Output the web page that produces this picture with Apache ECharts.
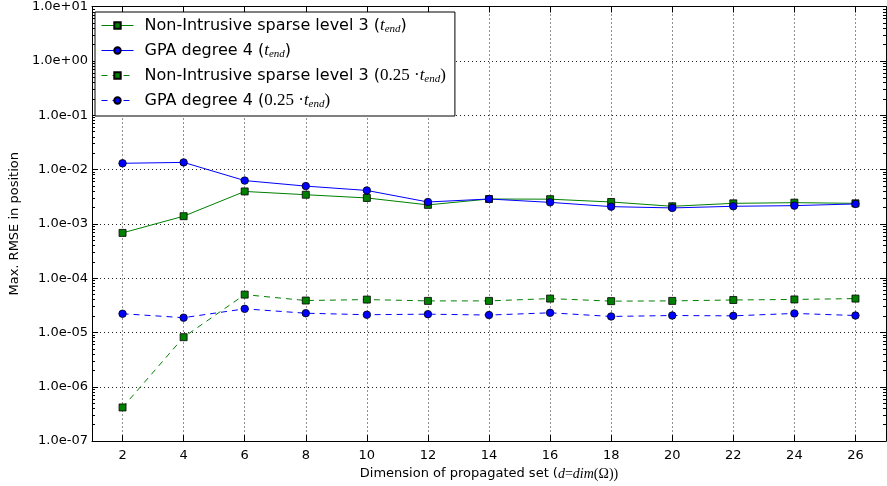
<!DOCTYPE html>
<html>
<head>
<meta charset="utf-8">
<script src="https://cdn.jsdelivr.net/npm/echarts@6/dist/echarts.min.js"></script>
<style>
  html, body { margin: 0; padding: 0; background: #fff; }
  #chart { width: 887px; height: 486px; }
</style>
</head>
<body>
<div id="chart"></div>
<script>
// Dimension of the propagated set
const dims = [2, 4, 6, 8, 10, 12, 14, 16, 18, 20, 22, 24, 26];

// Max. RMSE in position at t_end
const nonIntrusiveEnd = [6.8e-4, 1.38e-3, 3.94e-3, 3.43e-3, 2.99e-3, 2.23e-3, 2.86e-3, 2.84e-3, 2.52e-3, 2.10e-3, 2.38e-3, 2.45e-3, 2.38e-3];
const gpaEnd = [1.30e-2, 1.35e-2, 6.25e-3, 4.94e-3, 4.11e-3, 2.52e-3, 2.86e-3, 2.48e-3, 2.07e-3, 1.96e-3, 2.10e-3, 2.16e-3, 2.32e-3];

// Max. RMSE in position at 0.25 * t_end
const nonIntrusiveQuarter = [4.16e-7, 8.18e-6, 4.97e-5, 3.87e-5, 4.03e-5, 3.81e-5, 3.81e-5, 4.20e-5, 3.77e-5, 3.81e-5, 3.96e-5, 4.05e-5, 4.20e-5];
const gpaQuarter = [2.21e-5, 1.87e-5, 2.72e-5, 2.26e-5, 2.12e-5, 2.17e-5, 2.09e-5, 2.30e-5, 1.97e-5, 2.05e-5, 2.02e-5, 2.24e-5, 2.05e-5];

// Axis ticks
const xTicks = [2, 4, 6, 8, 10, 12, 14, 16, 18, 20, 22, 24, 26];
const yMin = 1e-7, yMax = 10;
const yMinor = [];
for (let e = -7; e < 1; e++) {
  for (let k = 2; k <= 9; k++) yMinor.push(k * Math.pow(10, e));
}

const sans = 'DejaVu Sans';
const serif = 'Liberation Serif';
const GREEN = '#008000', BLUE = '#0000ff';

function expLabel(v) {
  const e = Math.round(Math.log10(v));
  return '1.0e' + (e < 0 ? '-' : '+') + String(Math.abs(e)).padStart(2, '0');
}
const pair = (ys) => dims.map((d, i) => [d, ys[i]]);

const legendText = {
  'ni_end':  'Non-Intrusive sparse level 3 ({t|t}{s|end})',
  'gpa_end': 'GPA degree 4 ({t|t}{s|end})',
  'ni_q':    'Non-Intrusive sparse level 3 ({m|0.25 ·}{t|t}{s|end}{m|)}',
  'gpa_q':   'GPA degree 4 ({m|0.25 ·}{t|t}{s|end}{m|)}'
};

function lineSeries(name, data, color, symbol, dashed) {
  return {
    name, type: 'line', data: pair(data), xAxisIndex: 0, yAxisIndex: 0,
    symbol, symbolSize: symbol === 'rect' ? 7 : 7.5,
    lineStyle: { color, width: 1, type: dashed ? [6, 5] : 'solid' },
    itemStyle: { color, borderColor: '#000', borderWidth: 0.8 },
    emphasis: { disabled: true },
    z: 3
  };
}

const tickBase = { inside: true, lineStyle: { color: '#000', width: 1 } };

const chart = echarts.init(document.getElementById('chart'), null, { renderer: 'canvas' });
chart.setOption({
  animation: false,
  backgroundColor: '#fff',
  textStyle: { fontFamily: sans },
  grid: { left: 88, right: 1, top: 4, bottom: 43, containLabel: false },
  legend: {
    orient: 'vertical', left: 95, top: 12,
    backgroundColor: '#fff', borderColor: '#000', borderWidth: 1, borderRadius: 0,
    padding: [5, 9, 6, 6], itemGap: 7, itemWidth: 32, itemHeight: 8,
    lineStyle: { width: 1 },
    data: ['ni_end', 'gpa_end', 'ni_q', 'gpa_q'],
    formatter: (n) => legendText[n],
    textStyle: {
      fontFamily: sans, fontSize: 16, color: '#000', padding: [0, 0, 0, 6],
      rich: {
        t: { fontFamily: serif, fontStyle: 'italic', fontSize: 17, color: '#000' },
        s: { fontFamily: serif, fontStyle: 'italic', fontSize: 11, color: '#000', padding: [8, 0, 0, 0] },
        m: { fontFamily: serif, fontSize: 17, color: '#000' }
      }
    }
  },
  xAxis: [
    {
      type: 'value', min: 1, max: 27, position: 'bottom',
      name: 'Dimension of propagated set ({i|d}{r|=}{i|dim}{r|(Ω))}',
      nameLocation: 'middle', nameGap: 22,
      nameTextStyle: {
        fontFamily: sans, fontSize: 13, color: '#000',
        rich: {
          i: { fontFamily: serif, fontStyle: 'italic', fontSize: 14, color: '#000' },
          r: { fontFamily: serif, fontSize: 14, color: '#000' }
        }
      },
      axisLine: { show: true, lineStyle: { color: '#000', width: 1 } },
      axisTick: Object.assign({ length: 6, customValues: xTicks }, tickBase),
      axisLabel: { customValues: xTicks, color: '#000', fontSize: 13, margin: 8, fontFamily: sans },
      splitLine: { show: true, lineStyle: { color: '#222', type: [1, 3], width: 1 } }
    },
    {
      type: 'value', min: 1, max: 27, position: 'top',
      axisLine: { show: true, lineStyle: { color: '#000', width: 1 } },
      axisTick: Object.assign({ length: 6, customValues: xTicks }, tickBase),
      axisLabel: { show: false },
      splitLine: { show: false }
    }
  ],
  yAxis: [
    {
      type: 'log', logBase: 10, min: yMin, max: yMax, interval: 1, position: 'left',
      name: 'Max. RMSE in position', nameLocation: 'middle', nameGap: 67,
      nameTextStyle: { fontFamily: sans, fontSize: 13, color: '#000' },
      axisLine: { show: true, lineStyle: { color: '#000', width: 1 } },
      axisTick: Object.assign({ length: 6 }, tickBase),
      axisLabel: { formatter: expLabel, color: '#000', fontSize: 13, margin: 4, fontFamily: sans },
      splitLine: { show: true, lineStyle: { color: '#222', type: [1, 3], width: 1 } }
    },
    {
      type: 'log', logBase: 10, min: yMin, max: yMax, position: 'left',
      axisLine: { show: false },
      axisTick: Object.assign({ length: 3, customValues: yMinor }, tickBase),
      axisLabel: { show: false },
      splitLine: { show: false }
    },
    {
      type: 'log', logBase: 10, min: yMin, max: yMax, interval: 1, position: 'right',
      axisLine: { show: true, lineStyle: { color: '#000', width: 1 } },
      axisTick: Object.assign({ length: 6 }, tickBase),
      axisLabel: { show: false },
      splitLine: { show: false }
    },
    {
      type: 'log', logBase: 10, min: yMin, max: yMax, position: 'right',
      axisLine: { show: false },
      axisTick: Object.assign({ length: 3, customValues: yMinor }, tickBase),
      axisLabel: { show: false },
      splitLine: { show: false }
    }
  ],
  series: [
    lineSeries('ni_end', nonIntrusiveEnd, GREEN, 'rect', false),
    lineSeries('gpa_end', gpaEnd, BLUE, 'circle', false),
    lineSeries('ni_q', nonIntrusiveQuarter, GREEN, 'rect', true),
    lineSeries('gpa_q', gpaQuarter, BLUE, 'circle', true)
  ]
});
</script>
</body>
</html>
